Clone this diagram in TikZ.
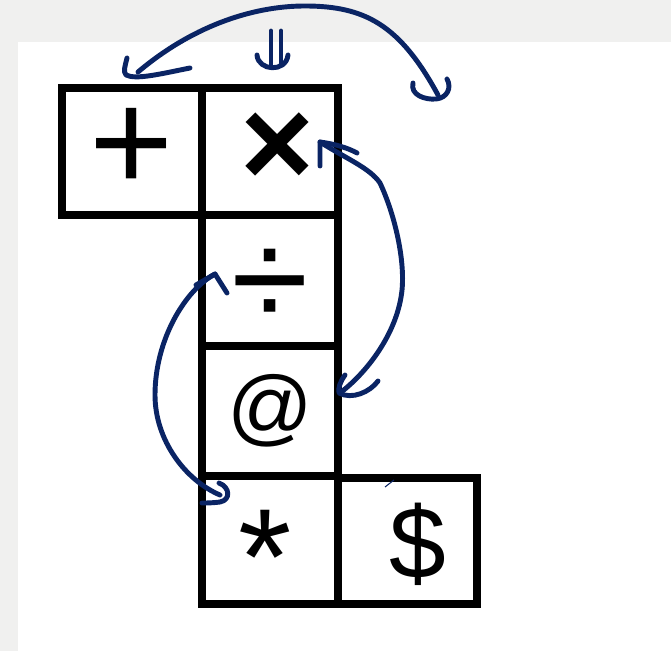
\documentclass[tikz,border=0pt]{standalone}
\usepackage{fontspec}
\setmainfont{Liberation Sans}
\definecolor{inkblue}{RGB}{10,36,100}
\definecolor{pagegray}{RGB}{240,240,239}
\newcommand{\px}{0.02cm}
\tikzset{
  cell/.style={draw=black, line width=4pt, inner sep=0pt},
  pen/.style={draw=inkblue, line width=2.8pt, line cap=round, line join=round},
}

\begin{document}
\begin{tikzpicture}[x=\px, y=-\px]
  \useasboundingbox (0,0) rectangle (671,651);
  \fill[pagegray] (0,0) rectangle (671,651);
  \fill[white] (18,42) rectangle (671,651);

  % the six squares
  \node[cell, minimum width=140*\px, minimum height=127*\px, font=\fontsize{82}{82}\selectfont] (plus) at (132,151.5) {\raisebox{1pt}[\height][\depth]{+}};
  \node[cell, minimum width=136*\px, minimum height=127*\px, font=\bfseries\fontsize{72}{72}\selectfont] (times) at (270,151.5) {\hspace*{8pt}\raisebox{1pt}[\height][\depth]{×}};
  \node[cell, minimum width=136*\px, minimum height=131*\px, font=\fontsize{80}{80}\selectfont] (divide) at (270,280.5) {\raisebox{-4.5pt}[\height][\depth]{÷}};
  \node[cell, minimum width=136*\px, minimum height=130*\px, font=\fontsize{48}{48}\selectfont] (atsign) at (270,411) {@};
  \node[cell, minimum width=136*\px, minimum height=128*\px, font=\fontsize{78}{78}\selectfont] (star) at (270,540) {\hspace*{-6pt}\raisebox{-10pt}[\height][\depth]{*}};
  \node[cell, minimum width=139*\px, minimum height=126*\px, font=\fontsize{58}{58}\selectfont] (dollar) at (407.5,541) {\hspace*{12pt}\raisebox{-2pt}[\height][\depth]{\$}};

  % ends of the hand-drawn arcs
  \coordinate (plusend) at (138,72);
  \coordinate (farend) at (438,95);
  \coordinate (timesend) at (320,142);
  \coordinate (atend) at (340,393);
  \coordinate (divend) at (215,274);
  \coordinate (starend) at (220,495);

  % top arc
  \draw[pen] (plusend) .. controls (190,28) and (250,6) .. (305,6)
    .. controls (365,6) and (400,25) .. (farend);
  \draw[pen] (127,58) .. controls (125,66) and (123,72) .. (126,75)
    .. controls (136,80) and (160,74) .. (190,68);
  \draw[pen] (413,83) .. controls (410,95) and (425,100) .. (436,99)
    .. controls (447,98) and (452,88) .. (447,79);
  \draw[pen] (271,31) -- (271,64);
  \draw[pen] (281,31) -- (281,64);
  \draw[pen] (257,55) .. controls (258,71) and (286,73) .. (288,55);

  % right arc
  \draw[pen] (timesend) .. controls (345,158) and (370,168) .. (380,183)
    .. controls (395,215) and (405,260) .. (402,290)
    .. controls (398,330) and (370,370) .. (atend);
  \draw[pen] (320,166) -- (timesend) .. controls (335,144) and (348,148) .. (357,153);
  \draw[pen] (345,375) .. controls (340,382) and (338,388) .. (339,393)
    .. controls (352,400) and (370,392) .. (378,381);

  % left arc
  \draw[pen] (divend) .. controls (185,290) and (155,340) .. (155,395)
    .. controls (155,440) and (185,480) .. (starend);
  \draw[pen] (196,285) -- (divend) -- (227,293);
  \draw[pen] (219,483) .. controls (230,487) and (231,500) .. (220,502)
    .. controls (212,503) and (207,503) .. (202,503);

  % stray mark
  \draw[inkblue, line width=0.6pt] (385,487) -- (394,480);
\end{tikzpicture}
\end{document}
